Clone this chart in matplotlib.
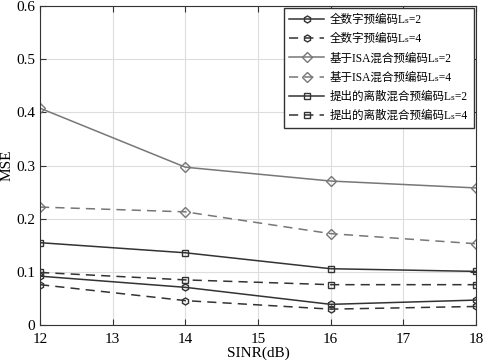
import matplotlib
matplotlib.use("Agg")
import matplotlib.pyplot as plt

plt.rcParams['font.family'] = ['Liberation Serif', 'Noto Sans CJK SC', 'DejaVu Serif', 'DejaVu Sans']

sinr = [12, 14, 16, 18]
full_ls2 = [0.092, 0.071, 0.039, 0.047]
full_ls4 = [0.076, 0.046, 0.030, 0.035]
isa_ls2 = [0.408, 0.297, 0.271, 0.258]
isa_ls4 = [0.222, 0.213, 0.172, 0.153]
prop_ls2 = [0.155, 0.136, 0.106, 0.101]
prop_ls4 = [0.099, 0.085, 0.076, 0.076]

labels = ['全数字预编码Lₛ=2', '全数字预编码Lₛ=4',
          '基于ISA混合预编码Lₛ=2', '基于ISA混合预编码Lₛ=4',
          '提出的离散混合预编码Lₛ=2', '提出的离散混合预编码Lₛ=4']

dark = '#333333'
gray = '#777777'

fig = plt.figure(figsize=(4.83, 3.62), dpi=100)
ax = fig.add_axes([0.083, 0.102, 0.9025, 0.881])

series = [
    (full_ls2, '-', 'h', dark, labels[0]),
    (full_ls4, '--', 'h', dark, labels[1]),
    (isa_ls2, '-', 'D', gray, labels[2]),
    (isa_ls4, '--', 'D', gray, labels[3]),
    (prop_ls2, '-', 's', dark, labels[4]),
    (prop_ls4, '--', 's', dark, labels[5]),
]
for ys, ls, mk, c, lab in series:
    kw = dict(dashes=(6, 4)) if ls == '--' else {}
    ax.plot(sinr, ys, linestyle=ls, marker=mk, color=c, markerfacecolor='none',
            markeredgecolor=c, markersize=5, linewidth=1.1,
            markeredgewidth=1.0, label=lab, **kw)

ax.set_xlim(12, 18)
ax.set_ylim(0, 0.6)
ax.set_xticks([12, 13, 14, 15, 16, 17, 18])
ax.set_yticks([0, 0.1, 0.2, 0.3, 0.4, 0.5, 0.6])
ax.set_yticklabels(['0', '0.1', '0.2', '0.3', '0.4', '0.5', '0.6'])
ax.grid(True, color='#dddddd', linewidth=0.8)
ax.tick_params(direction='in', labelsize=11, length=4, top=True, right=True, color='#333333')
ax.tick_params(axis='x', pad=6)
for s in ax.spines.values():
    s.set_color('#333333')
ax.set_xlabel('SINR(dB)', fontsize=11, labelpad=0)
ax.set_ylabel('MSE', fontsize=11, labelpad=2)

leg = ax.legend(loc='upper right', fontsize=8.3, frameon=True, fancybox=False,
                edgecolor='#333333', framealpha=1, handlelength=3.0,
                borderaxespad=0.2, labelspacing=0.62, borderpad=0.5, handletextpad=0.5)
leg.get_frame().set_linewidth(1.0)

fig.savefig('out.png', dpi=100)
